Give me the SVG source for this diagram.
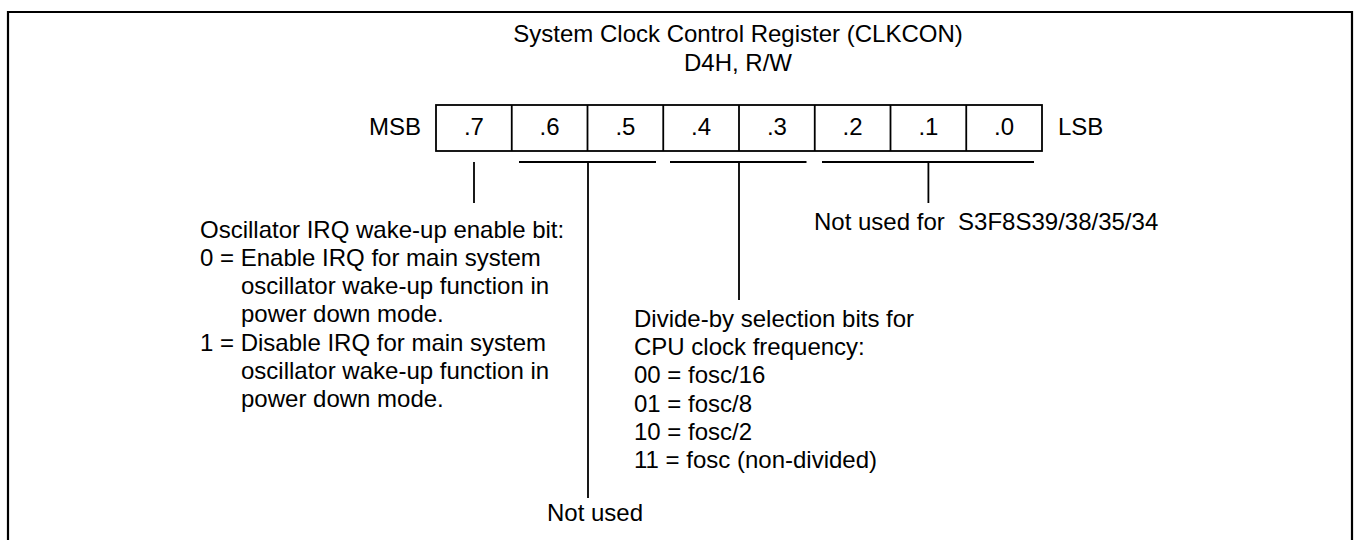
<svg xmlns="http://www.w3.org/2000/svg" width="1354" height="540" viewBox="0 0 1354 540">
<style>
text{font-family:"Liberation Sans",Arial,sans-serif;font-size:24px;fill:#000}
.c{text-anchor:middle}
.e{text-anchor:end}
.pre{white-space:pre}
.ln{stroke:#000;stroke-width:1.8;fill:none}
.fr{stroke:#000;stroke-width:2.2;fill:none}
</style>
<rect width="1354" height="540" fill="#fff"/>
<path class="fr" d="M8,545 V12 H1352 V545"/>
<g id="title">
<text class="c" x="738" y="42">System Clock Control Register (CLKCON)</text>
<text class="c" x="738" y="71">D4H, R/W</text>
</g>
<g id="register">
<rect class="ln" x="436" y="105" width="606" height="46"/>
<path class="ln" d="M511.75,105V151M587.5,105V151M663.25,105V151M739,105V151M814.75,105V151M890.5,105V151M966.25,105V151"/>
<text class="e" x="421" y="135">MSB</text>
<text x="1058" y="135">LSB</text>
<text class="c" x="473.9" y="135">.7</text>
<text class="c" x="549.6" y="135">.6</text>
<text class="c" x="625.4" y="135">.5</text>
<text class="c" x="701.1" y="135">.4</text>
<text class="c" x="776.9" y="135">.3</text>
<text class="c" x="852.6" y="135">.2</text>
<text class="c" x="928.4" y="135">.1</text>
<text class="c" x="1004.1" y="135">.0</text>
</g>
<g id="connectors">
<path class="ln" d="M474,162V203"/>
<path class="ln" d="M519,162H656M588,162V498"/>
<path class="ln" d="M670,162H806.5M739,162V300"/>
<path class="ln" d="M822,162H1034M928.4,162V203"/>
</g>
<g id="bit7">
<text x="200" y="237.5">Oscillator IRQ wake-up enable bit:</text>
<text x="200" y="265.8">0 = Enable IRQ for main system</text>
<text x="241" y="294.1">oscillator wake-up function in</text>
<text x="241" y="322.4">power down mode.</text>
<text x="200" y="350.7">1 = Disable IRQ for main system</text>
<text x="241" y="379">oscillator wake-up function in</text>
<text x="241" y="407.3">power down mode.</text>
</g>
<g id="bits43">
<text x="634" y="326.7">Divide-by selection bits for</text>
<text x="634" y="355">CPU clock frequency:</text>
<text x="634" y="383.3">00 = fosc/16</text>
<text x="634" y="411.6">01 = fosc/8</text>
<text x="634" y="439.9">10 = fosc/2</text>
<text x="634" y="468.2">11 = fosc (non-divided)</text>
</g>
<g id="bits65">
<text x="547" y="521">Not used</text>
</g>
<g id="bits20">
<text class="pre" x="814" y="230">Not used for  S3F8S39/38/35/34</text>
</g>
</svg>
